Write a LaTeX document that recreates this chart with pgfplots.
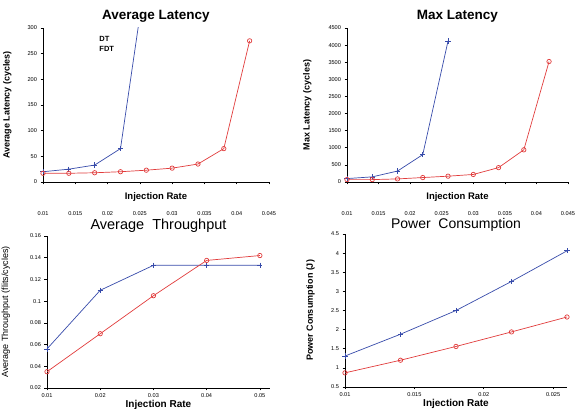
\documentclass[border=0pt]{standalone}
\usepackage{fontspec}
\setmainfont{Liberation Sans}
\usepackage{pgfplots}
\pgfplotsset{compat=1.18}
\definecolor{dtblue}{RGB}{55,75,170}
\definecolor{fdtred}{RGB}{225,60,60}
\pgfplotsset{
  mlstyle/.style={
    scale only axis,
    axis lines=left,
    axis line style={-, line width=0.8pt},
    tick align=outside,
    major tick length=2.5pt,
    tick style={black, line width=0.6pt},
    ticklabel style={font=\fontsize{5.6}{6}\selectfont},
    /pgf/number format/assume math mode=true,
    /pgf/number format/fixed,
    /pgf/number format/1000 sep={},
    scaled x ticks=false, scaled y ticks=false,
    clip=true,
    every axis title shift=0pt,
    title style={font=\fontsize{13.5}{15}\selectfont\bfseries},
    xlabel style={font=\fontsize{9.5}{11}\selectfont\bfseries},
    ylabel style={font=\fontsize{9}{10}\selectfont\bfseries},
  },
  dt/.style={color=dtblue, line width=0.7pt, mark=+, mark size=2.6pt, mark options={solid, line width=0.7pt}},
  fdt/.style={color=fdtred, line width=0.7pt, mark=o, mark size=2.2pt, mark options={solid, line width=0.7pt}},
}
\begin{document}
\begin{tikzpicture}
\useasboundingbox (0,0) rectangle (578pt,409pt);
% ---------------- Average Latency ----------------
\begin{axis}[mlstyle,
  at={(43pt,227pt)}, anchor=south west,
  width=226pt, height=154pt,
  xmin=0.01, xmax=0.045, ymin=0, ymax=300,
  xtick={0.01,0.015,0.02,0.025,0.03,0.035,0.04,0.045},
  xticklabels={0.01,0.015,0.02,0.025,0.03,0.035,0.04,0.045},
  xticklabel style={yshift=-24pt},
  ytick={0,50,100,150,200,250,300},
  title={Average Latency},
  title style={at={(axis description cs:0.5,1)}, anchor=center, yshift=12pt},
  xlabel={Injection Rate},
  xlabel style={at={(axis description cs:0.5,0)}, anchor=center, yshift=-15pt},
  ylabel={Average Latency (cycles)},
  every axis y label/.append style={at={(axis description cs:-0.124,0.5)}},
  legend style={at={(axis description cs:0.24,0.96)}, anchor=north west, draw=none, fill=none,
    font=\fontsize{7.5}{9}\selectfont\bfseries, row sep=-1pt, inner sep=0pt},
  legend image code/.code={},
  legend cell align=left,
]
\addplot[dt] coordinates {(0.010,20) (0.014,25) (0.018,33) (0.022,65) (0.026,410)};
\addplot[fdt] coordinates {(0.010,17) (0.014,17) (0.018,18) (0.022,20) (0.026,23) (0.030,27) (0.034,35) (0.038,65) (0.042,275)};
\legend{DT,FDT}
\end{axis}
% ---------------- Max Latency ----------------
\begin{axis}[mlstyle,
  at={(347pt,227pt)}, anchor=south west,
  width=221pt, height=154pt,
  xmin=0.01, xmax=0.045, ymin=0, ymax=4500,
  xtick={0.01,0.015,0.02,0.025,0.03,0.035,0.04,0.045},
  xticklabels={0.01,0.015,0.02,0.025,0.03,0.035,0.04,0.045},
  xticklabel style={yshift=-24pt},
  ytick={0,500,1000,1500,2000,2500,3000,3500,4000,4500},
  title={Max Latency},
  title style={at={(axis description cs:0.5,1)}, anchor=center, yshift=12pt},
  xlabel={Injection Rate},
  xlabel style={at={(axis description cs:0.5,0)}, anchor=center, yshift=-15pt},
  ylabel={Max Latency (cycles)},
  every axis y label/.append style={at={(axis description cs:-0.145,0.5)}},
]
\addplot[dt] coordinates {(0.010,100) (0.014,150) (0.018,320) (0.022,800) (0.026,4120)};
\addplot[fdt] coordinates {(0.010,70) (0.014,70) (0.018,90) (0.022,130) (0.026,170) (0.030,220) (0.034,420) (0.038,940) (0.042,3520)};
\end{axis}
% ---------------- Average Throughput ----------------
\begin{axis}[mlstyle,
  at={(47pt,21pt)}, anchor=south west,
  width=223pt, height=152pt,
  xmin=0.01, xmax=0.0519, ymin=0.02, ymax=0.16,
  xtick={0.01,0.02,0.03,0.04,0.05},
  xticklabels={0.01,0.02,0.03,0.04,0.05},
  ytick={0.02,0.04,0.06,0.08,0.1,0.12,0.14,0.16},
  yticklabels={0.02,0.04,0.06,0.08,0.1,0.12,0.14,0.16},
  title={Average\ \ Throughput},
  title style={at={(axis description cs:0.5,1)}, anchor=center, yshift=10pt, font=\fontsize{14.5}{17}\selectfont},
  xlabel={Injection Rate},
  xlabel style={at={(axis description cs:0.5,0)}, anchor=center, yshift=-17pt, font=\fontsize{10}{11}\selectfont\bfseries},
  ylabel={Average Throughput (flits/cycles)},
  ylabel style={font=\fontsize{9}{10}\selectfont},
  every axis y label/.append style={at={(axis description cs:-0.15,0.5)}},
]
\addplot[dt] coordinates {(0.01,0.056) (0.02,0.110) (0.03,0.133) (0.04,0.133) (0.05,0.133)};
\addplot[fdt] coordinates {(0.01,0.035) (0.02,0.070) (0.03,0.105) (0.04,0.1375) (0.05,0.142)};
\end{axis}
% ---------------- Power Consumption ----------------
\begin{axis}[mlstyle,
  at={(345pt,22pt)}, anchor=south west,
  width=222pt, height=153pt,
  xmin=0.01, xmax=0.026, ymin=0.5, ymax=4.5,
  xtick={0.01,0.015,0.02,0.025},
  xticklabels={0.01,0.015,0.02,0.025},
  ytick={0.5,1,1.5,2,2.5,3,3.5,4,4.5},
  yticklabels={0.5,1,1.5,2,2.5,3,3.5,4,4.5},
  title={Power\ \ Consumption},
  title style={at={(axis description cs:0.5,1)}, anchor=center, yshift=9pt, font=\fontsize{14}{16}\selectfont},
  xlabel={Injection Rate},
  xlabel style={at={(axis description cs:0.5,0)}, anchor=center, yshift=-17pt, font=\fontsize{10}{11}\selectfont\bfseries},
  ylabel={Power Consumption (J)},
  every axis y label/.append style={at={(axis description cs:-0.12,0.5)}},
]
\addplot[dt] coordinates {(0.010,1.31) (0.014,1.88) (0.018,2.50) (0.022,3.26) (0.026,4.06)};
\addplot[fdt] coordinates {(0.010,0.87) (0.014,1.20) (0.018,1.56) (0.022,1.94) (0.026,2.33)};
\node[anchor=south west, font=\fontsize{5.6}{6}\selectfont, inner sep=1pt] at (rel axis cs:0,1) {x $10^{-4}$};
\end{axis}
\end{tikzpicture}
\end{document}
